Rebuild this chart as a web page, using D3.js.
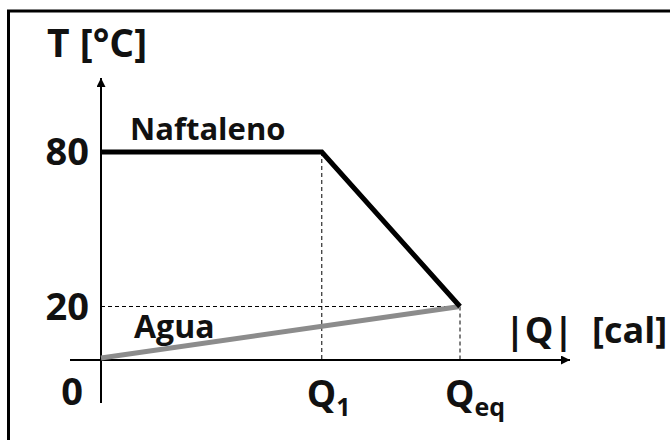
<!DOCTYPE html>
<html>
<head>
<meta charset="utf-8">
<script src="https://cdn.jsdelivr.net/npm/d3@7"></script>
<style>
    body { margin: 0; background: #fff; }
    text { font-family: "Open Sans", sans-serif; font-weight: bold; fill: #111; }
</style>
</head>
<body>
<script>
const width = 670;
const height = 440;

// values (heat in arbitrary units, Qeq = 1)
const qNames = ["Q1", "Qeq"];
const qValues = [0.615, 1];
const tempTicks = [0, 20, 80];
const naftaleno = [
    { q: 0, t: 80 },
    { q: 0.615, t: 80 },
    { q: 1, t: 20 },
];
const agua = [
    { q: 0, t: 0 },
    { q: 1, t: 20 },
];

const svg = d3
    .select("body")
    .append("svg")
    .attr("width", width)
    .attr("height", height);

const x = d3.scaleLinear().domain([0, 1]).range([101, 460]);
const y = d3.scaleLinear().domain([0, 80]).range([358, 152]);

// frame (right and bottom sides fall outside the crop)
svg.append("path")
    .attr("d", `M8.5,${height + 5} V11 H${width + 5}`)
    .attr("fill", "none")
    .attr("stroke", "#000")
    .attr("stroke-width", 3);

// arrow marker
svg.append("defs")
    .append("marker")
    .attr("id", "arrow")
    .attr("viewBox", "0 0 10 10")
    .attr("refX", 10)
    .attr("refY", 5)
    .attr("markerWidth", 9)
    .attr("markerHeight", 9)
    .attr("markerUnits", "userSpaceOnUse")
    .attr("orient", "auto")
    .append("path")
    .attr("d", "M0,0 L10,5 L0,10 z")
    .attr("fill", "#000");

// dashed guides
const guides = svg.append("g")
    .attr("stroke", "#000")
    .attr("stroke-width", 1)
    .attr("stroke-dasharray", "4,3");

guides.append("line")
    .attr("x1", x(0)).attr("x2", x(1))
    .attr("y1", y(20)).attr("y2", y(20));

qValues.forEach((q, i) => {
    const top = i == 0 ? y(80) : y(20);
    guides.append("line")
        .attr("x1", x(q)).attr("x2", x(q))
        .attr("y1", top).attr("y2", y(0) + 2);
});

// axes
svg.append("line")
    .attr("x1", 70).attr("x2", 570)
    .attr("y1", y(0) + 2).attr("y2", y(0) + 2)
    .attr("stroke", "#000")
    .attr("stroke-width", 2)
    .attr("marker-end", "url(#arrow)");

svg.append("line")
    .attr("x1", x(0)).attr("x2", x(0))
    .attr("y1", 403).attr("y2", 78)
    .attr("stroke", "#000")
    .attr("stroke-width", 2)
    .attr("marker-end", "url(#arrow)");

const line = d3.line()
    .x((d) => x(d.q))
    .y((d) => y(d.t));

svg.append("path")
    .datum(agua)
    .attr("d", line)
    .attr("fill", "none")
    .attr("stroke", "#8c8c8c")
    .attr("stroke-width", 5);

svg.append("path")
    .datum(naftaleno)
    .attr("d", line)
    .attr("fill", "none")
    .attr("stroke", "#000")
    .attr("stroke-width", 5)
    .attr("stroke-linejoin", "miter");

// temperature labels
svg.selectAll(".tlabel")
    .data(tempTicks)
    .join("text")
    .attr("class", "tlabel")
    .attr("text-anchor", "end")
    .attr("font-size", 38)
    .attr("x", (d) => (d == 0 ? 83 : 89))
    .attr("y", (d) => (d == 0 ? y(0) + 47 : y(d) + 13))
    .text((d) => d);

// heat labels
svg.selectAll(".qlabel")
    .data(qNames)
    .join("text")
    .attr("class", "qlabel")
    .attr("font-size", 37)
    .attr("x", (d, i) => x(qValues[i]) - 15)
    .attr("y", 407)
    .each(function (d) {
        const t = d3.select(this);
        t.append("tspan").text("Q");
        t.append("tspan")
            .attr("font-size", 25)
            .attr("dy", 9)
            .text(d.slice(1));
    });

svg.append("text")
    .attr("x", 47)
    .attr("y", 57)
    .attr("font-size", 39)
    .text("T [°C]");

svg.append("text")
    .attr("x", 505)
    .attr("y", 343)
    .attr("font-size", 36)
    .attr("xml:space", "preserve")
    .text("|Q|  [cal]");

svg.append("text")
    .attr("x", 130)
    .attr("y", 140)
    .attr("font-size", 31)
    .text("Naftaleno");

svg.append("text")
    .attr("x", 134)
    .attr("y", 338)
    .attr("font-size", 32)
    .text("Agua");
</script>
</body>
</html>
